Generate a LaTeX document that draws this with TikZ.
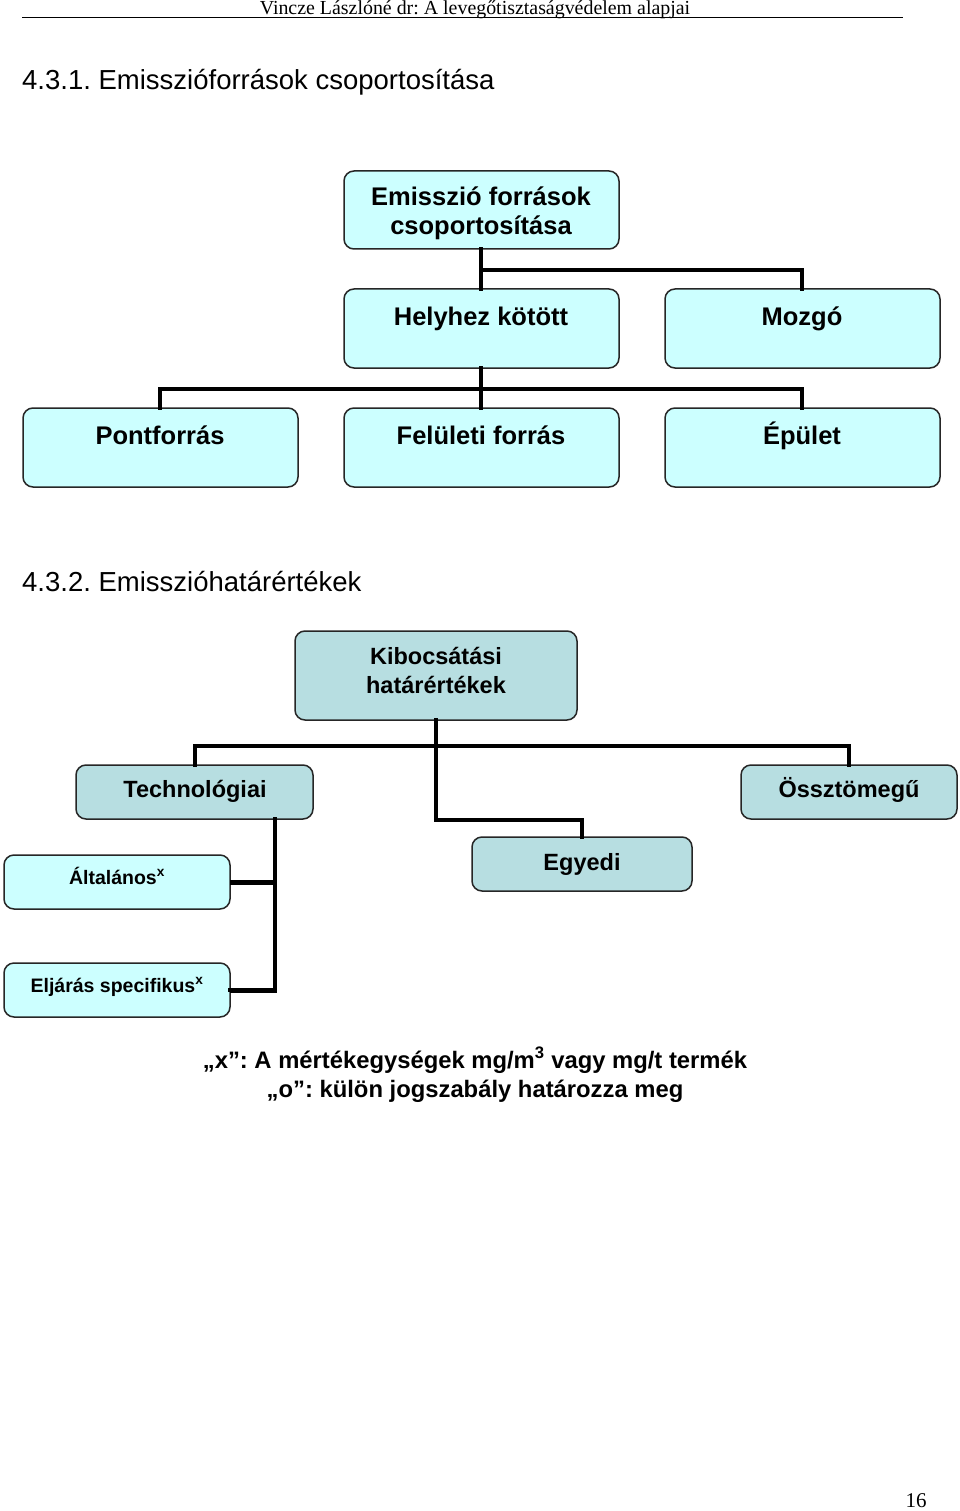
\documentclass[tikz,border=0pt]{standalone}
\usepackage{fontspec}
\setmainfont{Liberation Sans}
\newfontfamily\serifhdr{Liberation Serif}
\definecolor{boxcyan}{HTML}{CCFFFF}
\definecolor{boxteal}{HTML}{B7DEE1}
\frenchspacing
\begin{document}
\begin{tikzpicture}[x=1pt,y=-1pt,
  cbox/.style={draw=black!85,line width=1.5pt,rounded corners=10pt,fill=boxcyan},
  tbox/.style={draw=black!85,line width=1.5pt,rounded corners=10pt,fill=boxteal},
  conn/.style={line width=4pt,line cap=rect,line join=miter},
  lbl/.style={font=\bfseries\fontsize{25.5}{30}\selectfont,anchor=base,inner sep=0pt},
  lbl2/.style={font=\bfseries\fontsize{23.5}{29}\selectfont,anchor=base,inner sep=0pt,align=center},
  lbl3/.style={font=\bfseries\fontsize{19.5}{24}\selectfont,anchor=base,inner sep=0pt},
  headg/.style={font=\fontsize{27.5}{32}\selectfont,anchor=base west,inner sep=0pt},
  foot/.style={font=\bfseries\fontsize{23.8}{29}\selectfont,anchor=base,inner sep=0pt}]
\useasboundingbox[fill=white] (0,0) rectangle (960,1511);
% header
\node[font=\serifhdr\fontsize{19.9}{22}\selectfont,anchor=base,inner sep=0pt] (hdr) at (475,15) {Vincze Lászlóné dr: A levegőtisztaságvédelem alapjai};
\draw[line width=1pt] (22,18) -- (903,18);
% heading 1
\node[headg] (h1) at (22,90) {4.3.1. Emisszióforrások csoportosítása};
% top chart boxes
\path[cbox] (344,171) rectangle (619,249);
\path[cbox] (344,289) rectangle (619,368);
\path[cbox] (665,289) rectangle (940,368);
\path[cbox] (23,408) rectangle (298,487);
\path[cbox] (344,408) rectangle (619,487);
\path[cbox] (665,408) rectangle (940,487);
\coordinate (em) at (481,249);
\coordinate (helyT) at (481,289);
\coordinate (helyB) at (481,368);
\coordinate (mozT) at (802,289);
\coordinate (ponT) at (160,408);
\coordinate (felT) at (481,408);
\coordinate (epuT) at (802,408);
\node[lbl] (n1) at (481,206) {Emisszió források};
\node[lbl] (n1b) at (481,235) {csoportosítása};
\node[lbl] (n2) at (481,325) {Helyhez kötött};
\node[lbl] (n3) at (802,325) {Mozgó};
\node[lbl] (n4) at (160,444) {Pontforrás};
\node[lbl] (n5) at (481,444) {Felületi forrás};
\node[lbl] (n6) at (802,444) {Épület};
\draw[conn] (em) -- (helyT);
\draw[conn] (em) ++(0,21) -| (mozT);
\draw[conn] (helyB) -- (felT);
\draw[conn] (ponT) |- (481,389) -| (epuT);
% heading 2
\node[headg] (h2) at (22,591) {4.3.2. Emisszióhatárértékek};
% second chart
\path[tbox] (295,631) rectangle (577,720);
\path[tbox] (76,765) rectangle (313,819);
\path[tbox] (741,765) rectangle (957,819);
\path[tbox] (472,837) rectangle (692,891);
\path[cbox] (4,855) rectangle (230,909);
\path[cbox] (4,963) rectangle (230,1017);
\node[lbl2] (k1) at (436,664) {Kibocsátási};
\node[lbl2] (k1b) at (436,693) {határértékek};
\node[lbl2] (k2) at (195,797) {Technológiai};
\node[lbl2] (k3) at (849,797) {Össztömegű};
\node[lbl2] (k4) at (582,870) {Egyedi};
\node[lbl3] (k5) at (117,884) {Általános\textsuperscript{x}};
\node[lbl3] (k6) at (117,992) {Eljárás specifikus\textsuperscript{x}};
\coordinate (kB) at (436,720);
\coordinate (techT) at (195,765);
\coordinate (osszT) at (849,765);
\coordinate (egyT) at (582,837);
\coordinate (techB) at (275,819);
\draw[conn,line width=3.5pt] (techT) |- (osszT |- 0,746) -- (osszT);
\draw[conn,line width=3.5pt] (kB) |- (582,820) -- (egyT);
\draw[conn,line width=3.5pt] (techB) |- (230,990);
\draw[conn,line width=5pt,line cap=butt] (230,882) -- (276.75,882);
\draw[conn,line width=5pt,line cap=butt] (230,990) -- (276.75,990);
% footnote
\node[foot] (f1) at (475,1068) {„x”: A mértékegységek mg/m\textsuperscript{3} vagy mg/t termék};
\node[foot] (f2) at (475,1097) {„o”: külön jogszabály határozza meg};
% page number
\node[font=\serifhdr\fontsize{21}{24}\selectfont,anchor=base,inner sep=0pt] (pg) at (916,1507) {16};
\end{tikzpicture}
\end{document}
